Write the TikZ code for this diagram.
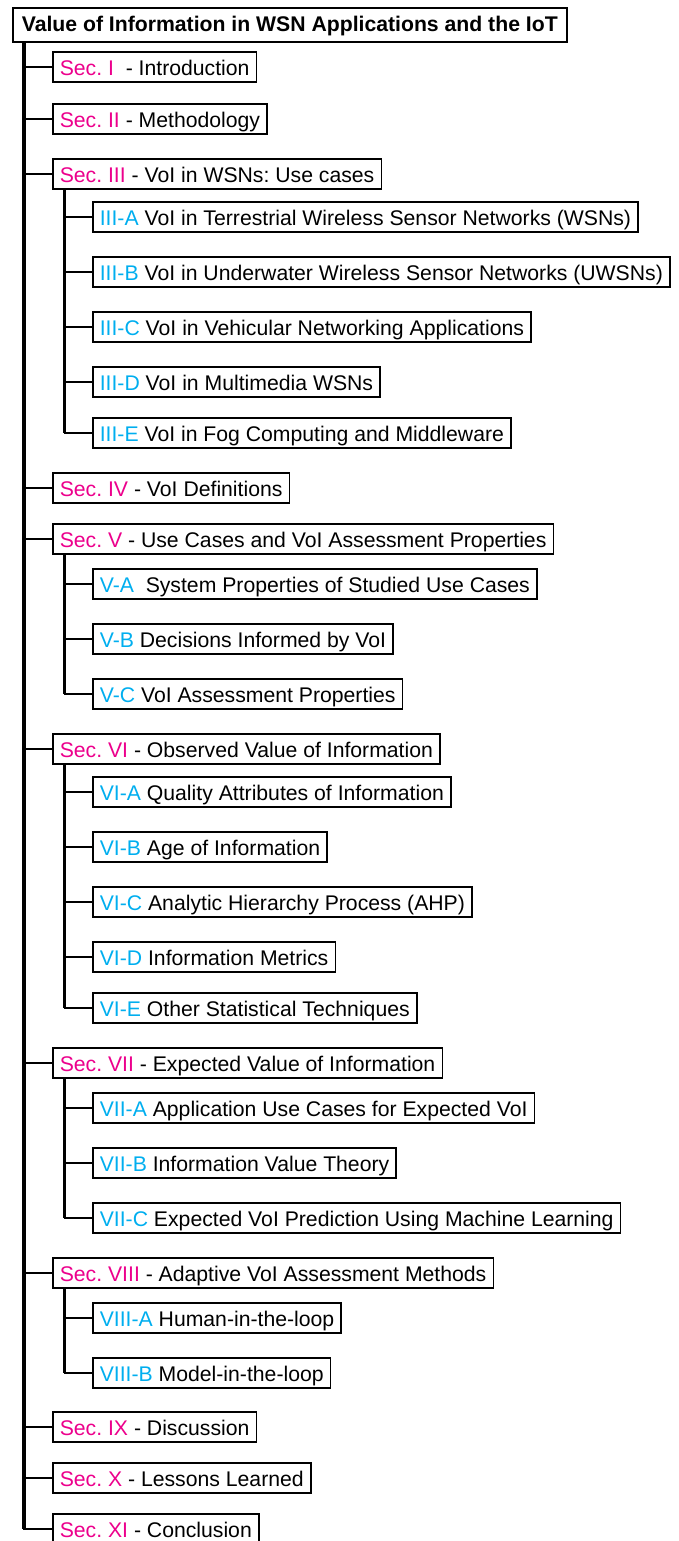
\documentclass[tikz,border=0pt]{standalone}
\usepackage{fontspec}
\setmainfont{Liberation Sans}
\frenchspacing
\definecolor{secc}{HTML}{EC008C}
\definecolor{subc}{HTML}{00AEEF}
\newcommand{\Sc}[1]{\textcolor{secc}{#1}}
\newcommand{\Sb}[1]{\textcolor{subc}{#1}}
\begin{document}
\begin{tikzpicture}[x=1pt,y=-1pt,
  box/.style={draw, line width=1.6pt, anchor=west, inner xsep=7pt, inner ysep=0pt,
    minimum height=30pt, text height=18.5pt, text depth=1.5pt,
    font=\fontsize{21.2}{25}\selectfont},
  titlebox/.style={box, inner xsep=9pt, minimum height=34pt, text height=16.5pt, text depth=3.5pt,
    font=\fontsize{21.2}{25}\selectfont\bfseries},
  trunk/.style={line width=3.4pt},
  subtrunk/.style={line width=3pt},
  branch/.style={line width=2.6pt}]
\useasboundingbox (0,0) rectangle (678,1541);
\node[titlebox] (title) at (12,25) {Value of Information in WSN Applications and the IoT};
\node[box] (sI) at (52,67) {\Sc{Sec. I}\ \ - Introduction};
\node[box] (sII) at (52,119) {\Sc{Sec. II} - Methodology};
\node[box] (sIII) at (52,174) {\Sc{Sec. III} - VoI in WSNs: Use cases};
\node[box] (a3) at (92,217) {\Sb{III-A} VoI in Terrestrial Wireless Sensor Networks (WSNs)};
\node[box] (b3) at (92,272) {\Sb{III-B} VoI in Underwater Wireless Sensor Networks (UWSNs)};
\node[box] (c3) at (92,327) {\Sb{III-C} VoI in Vehicular Networking Applications};
\node[box] (d3) at (92,382) {\Sb{III-D} VoI in Multimedia WSNs};
\node[box] (e3) at (92,433) {\Sb{III-E} VoI in Fog Computing and Middleware};
\node[box] (sIV) at (52,488) {\Sc{Sec. IV} - VoI Definitions};
\node[box] (sV) at (52,539) {\Sc{Sec. V} - Use Cases and VoI Assessment Properties};
\node[box] (a5) at (92,584) {\Sb{V-A}\ \ System Properties of Studied Use Cases};
\node[box] (b5) at (92,639) {\Sb{V-B} Decisions Informed by VoI};
\node[box] (c5) at (92,694) {\Sb{V-C} VoI Assessment Properties};
\node[box] (sVI) at (52,749) {\Sc{Sec. VI} - Observed Value of Information};
\node[box] (a6) at (92,792) {\Sb{VI-A} Quality Attributes of Information};
\node[box] (b6) at (92,847) {\Sb{VI-B} Age of Information};
\node[box] (c6) at (92,902) {\Sb{VI-C} Analytic Hierarchy Process (AHP)};
\node[box] (d6) at (92,957) {\Sb{VI-D} Information Metrics};
\node[box] (e6) at (92,1008) {\Sb{VI-E} Other Statistical Techniques};
\node[box] (sVII) at (52,1063) {\Sc{Sec. VII} - Expected Value of Information};
\node[box] (a7) at (92,1108) {\Sb{VII-A} Application Use Cases for Expected VoI};
\node[box] (b7) at (92,1163) {\Sb{VII-B} Information Value Theory};
\node[box] (c7) at (92,1218) {\Sb{VII-C} Expected VoI Prediction Using Machine Learning};
\node[box] (sVIII) at (52,1273) {\Sc{Sec. VIII} - Adaptive VoI Assessment Methods};
\node[box] (a8) at (92,1318) {\Sb{VIII-A} Human-in-the-loop};
\node[box] (b8) at (92,1373) {\Sb{VIII-B} Model-in-the-loop};
\node[box] (sIX) at (52,1427) {\Sc{Sec. IX} - Discussion};
\node[box] (sX) at (52,1478) {\Sc{Sec. X} - Lessons Learned};
\node[box] (sXI) at (52,1529) {\Sc{Sec. XI} - Conclusion};
% main trunk
\coordinate (T) at (24,0);
\coordinate (U) at (64,0);
\draw[trunk] (T |- title.south) -- (T |- sXI.west);
\draw[branch, line cap=rect] (T |- sXI.west) -- (sXI.west);
\foreach \n in {sI,sII,sIII,sIV,sV,sVI,sVII,sVIII,sIX,sX}
  \draw[branch] (T |- \n.west) -- (\n.west);
% sub trunks
\draw[subtrunk] (U |- sIII.south) -- (U |- e3.west);
\draw[subtrunk] (U |- sV.south) -- (U |- c5.west);
\draw[subtrunk] (U |- sVI.south) -- (U |- e6.west);
\draw[subtrunk] (U |- sVII.south) -- (U |- c7.west);
\draw[subtrunk] (U |- sVIII.south) -- (U |- b8.west);
\foreach \n in {a3,b3,c3,d3,e3,a5,b5,c5,a6,b6,c6,d6,e6,a7,b7,c7,a8,b8}
  \draw[branch] (U |- \n.west) -- (\n.west);
\end{tikzpicture}
\end{document}
